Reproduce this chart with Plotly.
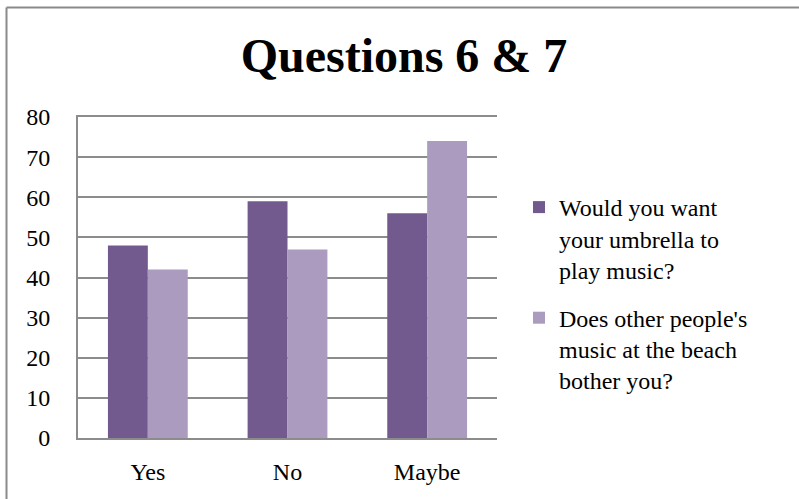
import plotly.graph_objects as go

categories = ["Yes", "No", "Maybe"]
series_names = [
    "Would you want<br>your umbrella to<br>play music?",
    "Does other people's<br>music at the beach<br>bother you?",
]
want_music = [48, 59, 56]
bothered = [42, 47, 74]
y_ticks = [0, 10, 20, 30, 40, 50, 60, 70, 80]

W, H = 799, 499
ML, MR, MT, MB = 78, 302, 117, 61
PW, PH = W - ML - MR, H - MT - MB

FONT = "Liberation Serif"
DARK = "#725A8F"
LIGHT = "#AA9BBF"
GRID = "#8C8C8C"

fig = go.Figure()
fig.add_trace(go.Bar(x=categories, y=want_music, name=series_names[0],
                     legendgroup="q6",
                     marker=dict(color=DARK, line=dict(width=0))))
fig.add_trace(go.Bar(x=categories, y=bothered, name=series_names[1],
                     legendgroup="q7",
                     marker=dict(color=LIGHT, line=dict(width=0))))


def px_x(p):
    return (p - ML) / PW


def px_y(p):
    return (H - MB - p) / PH


# outer chart frame (top and left edges visible)
fig.add_shape(type="line", xref="paper", yref="paper",
              x0=px_x(6.5), x1=px_x(W + 5), y0=px_y(7.5), y1=px_y(7.5),
              line=dict(color="#8A8A8A", width=2))
fig.add_shape(type="line", xref="paper", yref="paper",
              x0=px_x(6.5), x1=px_x(6.5), y0=px_y(7.5), y1=px_y(H + 5),
              line=dict(color="#8A8A8A", width=2))

fig.update_layout(
    width=W, height=H,
    margin=dict(l=ML, r=MR, t=MT, b=MB, pad=0, autoexpand=False),
    paper_bgcolor="white", plot_bgcolor="white",
    barmode="group", bargap=1.5 / 3.5, bargroupgap=0,
    font=dict(family=FONT, color="black"),
    title=dict(text="<b>Questions 6 &amp; 7</b>", x=px_x(404), xref="paper",
               xanchor="center", y=1 - 55 / H, yanchor="middle",
               font=dict(family=FONT, size=48, color="black")),
    xaxis=dict(showgrid=False, showline=True, mirror=True, linecolor=GRID,
               linewidth=2, ticks="", tickfont=dict(size=24, family=FONT),
               ticklabelstandoff=11, automargin=False, fixedrange=True),
    yaxis=dict(range=[0, 80], tickvals=y_ticks, showgrid=True,
               gridcolor=GRID, gridwidth=2, showline=True, linecolor=GRID,
               linewidth=2, ticks="", zeroline=False,
               tickfont=dict(size=24, family=FONT), ticklabelstandoff=21,
               automargin=False, fixedrange=True),
    legend=dict(x=px_x(519), xanchor="left", y=px_y(185), yanchor="top",
                font=dict(size=24, family=FONT), traceorder="grouped",
                tracegroupgap=14, valign="top", itemwidth=30,
                bgcolor="rgba(0,0,0,0)"),
    showlegend=True,
)

fig.write_html("out.html")
